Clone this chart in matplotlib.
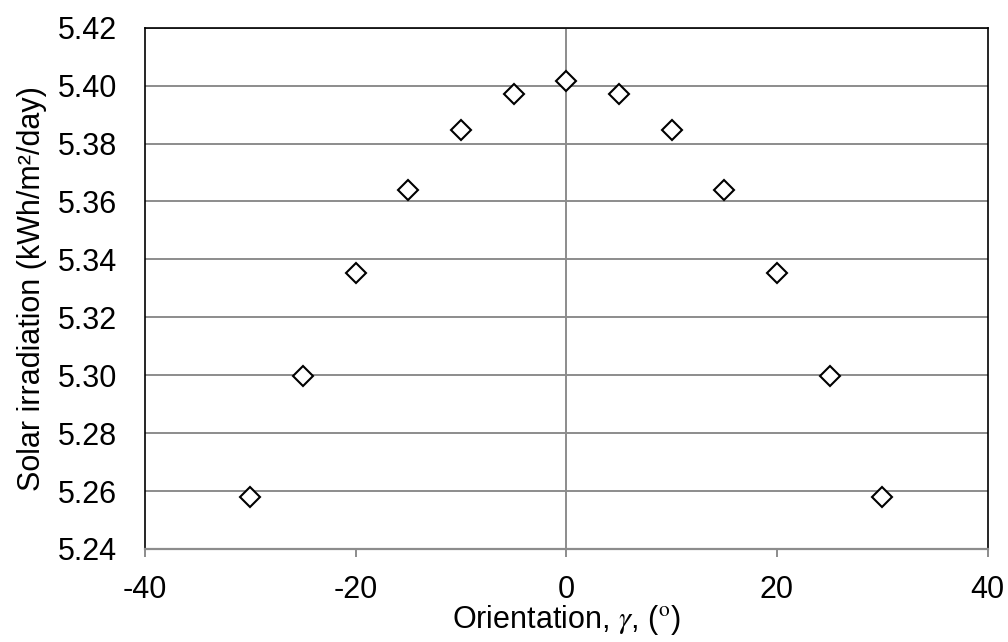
import numpy as np
import matplotlib.pyplot as plt

plt.rcParams['font.family'] = ['Liberation Sans', 'DejaVu Sans']
plt.rcParams['mathtext.fontset'] = 'stix'
plt.rcParams['axes.unicode_minus'] = False

orientation = [-30, -25, -20, -15, -10, -5, 0, 5, 10, 15, 20, 25, 30]
irradiation = [5.2580, 5.2998, 5.3353, 5.3638, 5.3845, 5.3972, 5.4015,
               5.3972, 5.3845, 5.3638, 5.3353, 5.2998, 5.2580]
xticks = [-40, -20, 0, 20, 40]
yticks = [5.24, 5.26, 5.28, 5.30, 5.32, 5.34, 5.36, 5.38, 5.40, 5.42]

fig = plt.figure(figsize=(10.08, 6.42), dpi=100)
ax = fig.add_axes([0.1438, 0.1449, 0.836, 0.812])

grid_col = '#8c8c8c'
for y in yticks[1:]:
    ax.axhline(y, color=grid_col, lw=1.4, zorder=1)
ax.axvline(0, color=grid_col, lw=1.4, zorder=1)

ax.plot(orientation, irradiation, ls='none', marker='D', markersize=10,
        markerfacecolor='white', markeredgecolor='black', markeredgewidth=1.5, zorder=3)

ax.set_xlim(-40, 40)
ax.set_ylim(5.24, 5.42)
ax.set_xticks(xticks)
ax.set_yticks(yticks)
ax.set_yticklabels([f'{v:.2f}' for v in yticks])
ax.tick_params(axis='x', direction='out', length=6, width=1.4, color=grid_col,
               labelsize=22, pad=13)
ax.tick_params(axis='y', length=0, labelsize=22, pad=20)

for s in ['left', 'right', 'top']:
    ax.spines[s].set_color('black')
    ax.spines[s].set_linewidth(1.2)
ax.spines['bottom'].set_color(grid_col)
ax.spines['bottom'].set_linewidth(1.6)

ax.set_xlabel(r'Orientation, $\gamma$, ($^{\mathrm{o}}$)', fontsize=22, labelpad=-2)
ax.set_ylabel('Solar irradiation (kWh/m²/day)', fontsize=22, labelpad=8)

fig.savefig('out.png', dpi=100)
